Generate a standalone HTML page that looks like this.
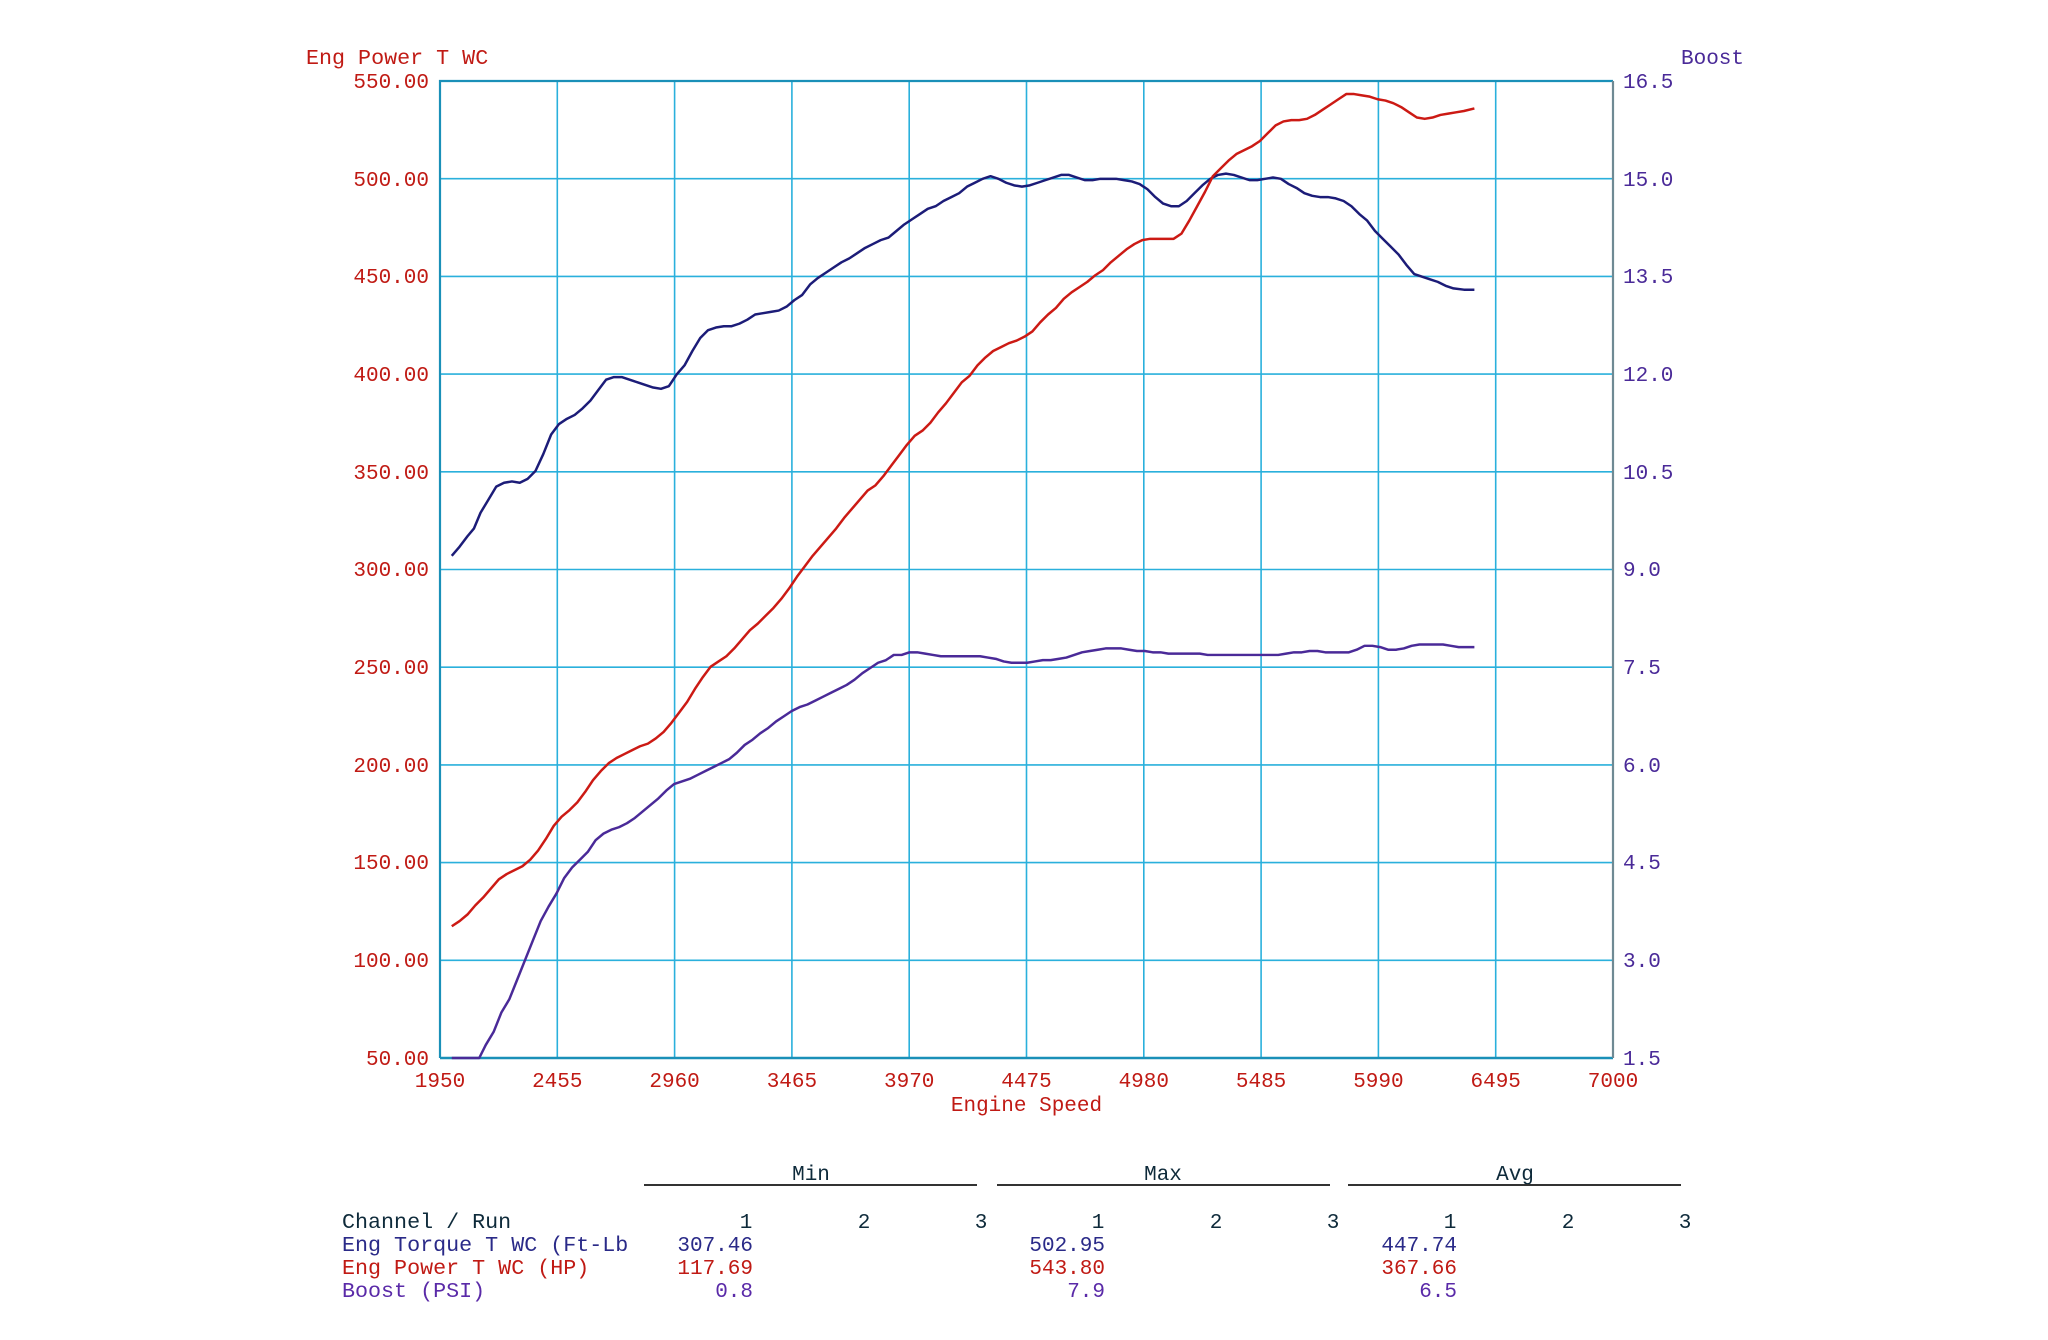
<!DOCTYPE html>
<html><head><meta charset="utf-8"><style>
html,body{margin:0;padding:0;background:#fff;}
svg{display:block;}
text{font-family:"Liberation Mono","DejaVu Sans Mono",monospace;font-size:21px;}
text.w{font-size:21.7px;}
</style></head><body>
<svg width="2048" height="1340" viewBox="0 0 2048 1340" xmlns="http://www.w3.org/2000/svg">
<rect width="2048" height="1340" fill="#fff"/>
<g stroke="#2ab0dc" stroke-width="1.6" fill="none">
<path d="M557.3 81V1058M674.6 81V1058M791.9 81V1058M909.2 81V1058M1026.5 81V1058M1143.8 81V1058M1261.1 81V1058M1378.4 81V1058M1495.7 81V1058"/>
<path d="M440 178.7H1613M440 276.4H1613M440 374.1H1613M440 471.8H1613M440 569.5H1613M440 667.2H1613M440 764.9H1613M440 862.6H1613M440 960.3H1613"/>
</g>
<path d="M440 1058V81H1613" stroke="#1a90b8" stroke-width="2.2" fill="none"/>
<path d="M440 1058H1613" stroke="#1a90b8" stroke-width="2.5" fill="none"/>
<path d="M1613 81V1058" stroke="#6f8a94" stroke-width="2.2" fill="none"/>

<g transform="matrix(1.3077,0,0,1.3044,-0.7,1.43)" fill="none" stroke-width="1.9" stroke-linejoin="round">
<polyline stroke="#1c1c78" points="346,425 352,418 358,410 363,404 368,392 374,382 380,372 386,369 392,368 398,369 404,366 410,360 416,347 422,332 428,324 434,320 440,317 446,312 452,306 458,298 464,290 470,288 476,288 482,290 488,292 494,294 500,296 506,297 512,295 518,286 524,279 530,268 536,258 542,252 548,250 554,249 560,249 566,247 572,244 578,240 584,239 590,238 596,237 602,234 608,229 614,225 620,217 626,212 632,208 638,204 644,200 650,197 656,193 662,189 668,186 674,183 680,181 686,176 692,171 698,167 704,163 710,159 716,157 722,153 728,150 734,147 740,142 746,139 752,136 758,134 764,136 770,139 776,141 782,142 788,141 794,139 800,137 806,135 812,133 818,133 824,135 830,137 836,137 842,136 848,136 854,136 860,137 866,138 872,140 878,144 884,150 890,155 896,157 902,157 908,153 914,147 920,141 926,136 932,133 938,132 944,133 950,135 956,137 962,137 968,136 974,135 980,136 986,140 992,143 998,147 1004,149 1010,150 1016,150 1022,151 1028,153 1034,157 1040,163 1046,168 1052,176 1058,182 1064,188 1070,194 1076,202 1082,209 1088,211 1094,213 1100,215 1106,218 1112,220 1120,221 1128,221"/>
<polyline stroke="#cc1a14" points="346,709 352,705 358,700 364,693 370,687 376,680 382,673 388,669 394,666 400,663 406,658 412,651 418,642 424,632 430,625 436,620 442,614 448,606 454,597 460,590 466,584 472,580 478,577 484,574 490,571 496,569 502,565 508,560 514,553 520,545 526,537 532,527 538,518 544,510 550,506 556,502 562,496 568,489 574,482 580,477 586,471 592,465 598,458 604,450 610,441 616,433 622,425 628,418 634,411 640,404 646,396 652,389 658,382 664,375 670,371 676,364 682,356 688,348 694,340 700,333 706,329 712,323 718,315 724,308 730,300 736,292 742,287 748,279 754,273 760,268 766,265 772,262 778,260 784,257 790,253 796,246 802,240 808,235 814,228 820,223 826,219 832,215 838,210 844,206 850,200 856,195 862,190 868,186 874,183 880,182 886,182 892,182 898,182 904,178 910,168 916,157 922,146 928,134 934,128 940,122 946,117 952,114 958,111 964,107 970,101 976,95 982,92 988,91 994,91 1000,90 1006,87 1012,83 1018,79 1024,75 1030,71 1036,71 1042,72 1048,73 1054,75 1060,76 1066,78 1072,81 1078,85 1084,89 1090,90 1096,89 1102,87 1108,86 1114,85 1120,84 1128,82"/>
<polyline stroke="#4a2a98" points="346,810 367,810 372,800 378,790 384,775 390,765 396,750 402,735 408,720 414,705 420,694 426,684 432,672 438,664 444,658 450,652 456,643 462,638 468,635 474,633 480,630 486,626 492,621 498,616 504,611 510,605 516,600 522,598 528,596 534,593 540,590 546,587 552,584 558,581 564,576 570,570 576,566 582,561 588,557 594,552 600,548 606,544 612,541 618,539 624,536 630,533 636,530 642,527 648,524 654,520 660,515 666,511 672,507 678,505 684,501 690,501 696,499 702,499 708,500 714,501 720,502 726,502 732,502 738,502 744,502 750,502 756,503 762,504 768,506 774,507 780,507 786,507 792,506 798,505 804,505 810,504 816,503 822,501 828,499 834,498 840,497 846,496 852,496 858,496 864,497 870,498 876,498 882,499 888,499 894,500 900,500 906,500 912,500 918,500 924,501 930,501 936,501 942,501 948,501 954,501 960,501 966,501 972,501 978,501 984,500 990,499 996,499 1002,498 1008,498 1014,499 1020,499 1026,499 1032,499 1038,497 1044,494 1050,494 1056,495 1062,497 1068,497 1074,496 1080,494 1086,493 1092,493 1098,493 1104,493 1110,494 1116,495 1122,495 1128,495"/>
</g>

<g fill="#c01a14">
<text class="w" x="306" y="64">Eng Power T WC</text>
<g text-anchor="end">
<text x="429" y="88">550.00</text><text x="429" y="186">500.00</text><text x="429" y="283">450.00</text><text x="429" y="381">400.00</text><text x="429" y="479">350.00</text><text x="429" y="576">300.00</text><text x="429" y="674">250.00</text><text x="429" y="772">200.00</text><text x="429" y="869">150.00</text><text x="429" y="967">100.00</text><text x="429" y="1065">50.00</text>
</g>
<g text-anchor="middle">
<text x="440" y="1087">1950</text><text x="557.3" y="1087">2455</text><text x="674.6" y="1087">2960</text><text x="791.9" y="1087">3465</text><text x="909.2" y="1087">3970</text><text x="1026.5" y="1087">4475</text><text x="1143.8" y="1087">4980</text><text x="1261.1" y="1087">5485</text><text x="1378.4" y="1087">5990</text><text x="1495.7" y="1087">6495</text><text x="1613" y="1087">7000</text>
<text x="1026.5" y="1111">Engine Speed</text>
</g>
</g>
<g fill="#4a2a98">
<text x="1681" y="64">Boost</text>
<text x="1623" y="88">16.5</text><text x="1623" y="186">15.0</text><text x="1623" y="283">13.5</text><text x="1623" y="381">12.0</text><text x="1623" y="479">10.5</text><text x="1623" y="576">9.0</text><text x="1623" y="674">7.5</text><text x="1623" y="772">6.0</text><text x="1623" y="869">4.5</text><text x="1623" y="967">3.0</text><text x="1623" y="1065">1.5</text>
</g>

<g fill="#0e2a3a" text-anchor="middle">
<text x="811" y="1180">Min</text><text x="1163" y="1180">Max</text><text x="1515" y="1180">Avg</text>
<text x="746" y="1228">1</text><text x="864" y="1228">2</text><text x="981" y="1228">3</text>
<text x="1098" y="1228">1</text><text x="1216" y="1228">2</text><text x="1333" y="1228">3</text>
<text x="1450" y="1228">1</text><text x="1568" y="1228">2</text><text x="1685" y="1228">3</text>
</g>
<g stroke="#333" stroke-width="2"><path d="M644 1185H977M997 1185H1330M1348 1185H1681"/></g>
<text class="w" x="342" y="1228" fill="#0e2a3a">Channel / Run</text>
<g fill="#2a2a88"><text class="w" x="342" y="1251">Eng Torque T WC (Ft-Lb</text>
<g text-anchor="end"><text x="753" y="1251">307.46</text><text x="1105" y="1251">502.95</text><text x="1457" y="1251">447.74</text></g></g>
<g fill="#c01a14"><text class="w" x="342" y="1274">Eng Power T WC (HP)</text>
<g text-anchor="end"><text x="753" y="1274">117.69</text><text x="1105" y="1274">543.80</text><text x="1457" y="1274">367.66</text></g></g>
<g fill="#5a2aa8"><text class="w" x="342" y="1297">Boost (PSI)</text>
<g text-anchor="end"><text x="753" y="1297">0.8</text><text x="1105" y="1297">7.9</text><text x="1457" y="1297">6.5</text></g></g>
</svg>
</body></html>
